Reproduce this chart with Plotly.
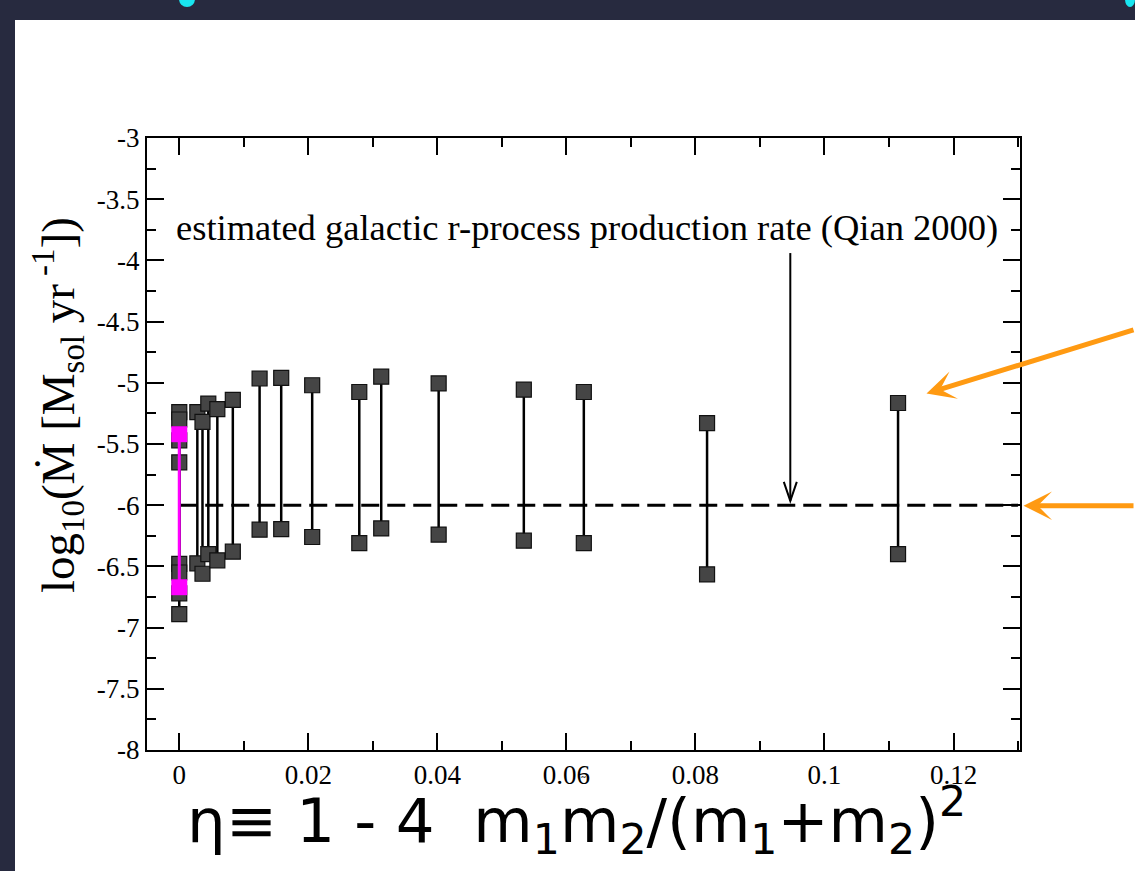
import plotly.graph_objects as go

# Symmetric mass-ratio parameter eta = 1 - 4 m1 m2 / (m1 + m2)^2 for each binary
eta = [0.0, 0.0, 0.0, 0.0, 0.0028, 0.0036, 0.0045, 0.0059, 0.0083,
       0.01245, 0.0158, 0.0206, 0.0279, 0.0313, 0.0402, 0.0534, 0.0627,
       0.0818, 0.1114]
# Upper and lower estimate of log10 of the ejection rate [M_sol / yr]
log_mdot_high = [-5.24, -5.30, -5.47, -5.65, -5.24, -5.32, -5.17, -5.215, -5.14,
                 -4.965, -4.96, -5.02, -5.075, -4.95, -5.005, -5.056, -5.075,
                 -5.33, -5.165]
log_mdot_low = [-6.48, -6.55, -6.72, -6.89, -6.475, -6.56, -6.40, -6.45, -6.38,
                -6.20, -6.195, -6.26, -6.31, -6.19, -6.24, -6.29, -6.31,
                -6.565, -6.40]

# Highlighted equal-mass run
eta_hl = [0.0]
hl_high = [-5.42]
hl_low = [-6.67]

# Galactic r-process production rate (Qian 2000)
qian_rate = -6.0
qian_eta = [0.0, 0.13]
arrow_eta = 0.0947
arrow_top = -3.94
arrow_tip = -5.965

x_range = [-0.005, 0.1303]
y_range = [-8.0, -3.0]
x_tickvals = [0, 0.02, 0.04, 0.06, 0.08, 0.10, 0.12]
x_ticktext = ["0", "0.02", "0.04", "0.06", "0.08", "0.1", "0.12"]
y_tickvals = [-3, -3.5, -4, -4.5, -5, -5.5, -6, -6.5, -7, -7.5, -8]
y_ticktext = ["-3", "-3.5", "-4", "-4.5", "-5", "-5.5", "-6", "-6.5", "-7", "-7.5", "-8"]

SERIF = "Liberation Serif, Times New Roman, DejaVu Serif, serif"
ORANGE = "#ff9a12"
SLIDE_BG = "#272a3f"

W, H = 1135, 871
L, R, T, B = 147, 115, 138, 121
PW, PH = W - L - R, H - T - B


def px(xp):
    """canvas x pixel -> paper fraction"""
    return (xp - L) / PW


def py(yp):
    """canvas y pixel -> paper fraction"""
    return (H - B - yp) / PH


def segments(xs, lo, hi):
    sx, sy = [], []
    for x, a, b in zip(xs, hi, lo):
        sx += [x, x, None]
        sy += [a, b, None]
    return sx, sy


fig = go.Figure()

# vertical bars joining the two estimates
sx, sy = segments(eta, log_mdot_low, log_mdot_high)
fig.add_trace(go.Scatter(x=sx, y=sy, mode="lines",
                         line=dict(color="black", width=2.5),
                         hoverinfo="skip", showlegend=False))

# reference production rate
fig.add_trace(go.Scatter(x=qian_eta, y=[qian_rate] * len(qian_eta), mode="lines",
                         line=dict(color="black", width=3, dash="18px,8px"),
                         hoverinfo="skip", showlegend=False))

# end-point markers
fig.add_trace(go.Scatter(x=eta + eta, y=log_mdot_high + log_mdot_low, mode="markers",
                         marker=dict(symbol="square", size=15, color="#454545",
                                     line=dict(color="#111111", width=1.2)),
                         showlegend=False))

# highlighted run
hx, hy = segments(eta_hl, hl_low, hl_high)
fig.add_trace(go.Scatter(x=hx, y=hy, mode="lines",
                         line=dict(color="#ff00ff", width=3),
                         hoverinfo="skip", showlegend=False))
fig.add_trace(go.Scatter(x=eta_hl + eta_hl, y=hl_high + hl_low, mode="markers",
                         marker=dict(symbol="square", size=16, color="#ff00ff",
                                     line=dict(width=0)),
                         showlegend=False))

shapes = [
    # white slide panel
    dict(type="rect", xref="paper", yref="paper", layer="below",
         x0=px(15), x1=px(W + 5), y0=py(H + 5), y1=py(20),
         fillcolor="white", line=dict(width=0)),
    # cyan lettering peeking in from the slide title
    dict(type="circle", xref="paper", yref="paper", layer="below",
         x0=px(179), x1=px(195), y0=py(7), y1=py(-9),
         fillcolor="#19e6f0", line=dict(width=0)),
    dict(type="circle", xref="paper", yref="paper", layer="below",
         x0=px(1125), x1=px(1135), y0=py(7), y1=py(-9),
         fillcolor="#19e6f0", line=dict(width=0)),
    # arrow shaft
    dict(type="line", xref="x", yref="y", x0=arrow_eta, x1=arrow_eta,
         y0=arrow_top, y1=arrow_tip, line=dict(color="black", width=2)),
    # arrow head (open chevron, pixel sized)
    dict(type="path", xref="x", yref="y", xsizemode="pixel", ysizemode="pixel",
         xanchor=arrow_eta, yanchor=arrow_tip,
         path="M-6.5,19 L0,0 L6.5,19", line=dict(color="black", width=2)),
]

annotations = [
    dict(text="estimated galactic r-process production rate (Qian 2000)",
         x=0.0632, y=-3.735, xref="x", yref="y", showarrow=False,
         font=dict(family=SERIF, size=36.5, color="black")),
    # y axis title
    dict(text="log<sub>10</sub>(Ṁ [M<sub>sol</sub> yr<sup> -1</sup>])",
         x=px(23), y=py(405), xref="paper", yref="paper", showarrow=False,
         textangle=-90, font=dict(family=SERIF, size=47, color="black")),
    # x axis title
    dict(text="η≡ 1 - 4  m<sub>1</sub>m<sub>2</sub>/(m<sub>1</sub>+m<sub>2</sub>)<sup>2</sup>",
         x=px(576), y=py(866), xref="paper", yref="paper", showarrow=False,
         font=dict(family="DejaVu Sans, sans-serif", size=61, color="black")),
    dict(text="˜", x=px(583), y=py(792), xref="paper", yref="paper", showarrow=False,
         font=dict(family="DejaVu Sans", size=14, color="#444444")),
    # orange pointers
    dict(text="", x=px(926.5), y=py(393.5), xref="paper", yref="paper",
         showarrow=True, ax=230, ay=-64, arrowhead=3, arrowsize=0.95,
         arrowwidth=5, arrowcolor=ORANGE, standoff=0),
    dict(text="", x=px(1023.5), y=py(505.7), xref="paper", yref="paper",
         showarrow=True, ax=130, ay=0, arrowhead=3, arrowsize=0.95,
         arrowwidth=5, arrowcolor=ORANGE, standoff=0),
]

axis_common = dict(showline=True, linewidth=2, linecolor="black", mirror="allticks",
                   ticks="inside", ticklen=17, tickwidth=2, tickcolor="black",
                   showgrid=False, zeroline=False,
                   tickfont=dict(family=SERIF, size=27, color="black"))

fig.update_xaxes(range=x_range, tickmode="array", tickvals=x_tickvals,
                 ticktext=x_ticktext,
                 minor=dict(ticks="inside", ticklen=9, tickwidth=2, tickcolor="black",
                            tick0=0, dtick=0.01, showgrid=False),
                 **axis_common)
fig.update_yaxes(range=y_range, tickmode="array", tickvals=y_tickvals,
                 ticktext=y_ticktext,
                 minor=dict(ticks="inside", ticklen=9, tickwidth=2, tickcolor="black",
                            tick0=-8, dtick=0.25, showgrid=False),
                 **axis_common)

fig.update_layout(width=W, height=H, margin=dict(l=L, r=R, t=T, b=B),
                  paper_bgcolor=SLIDE_BG, plot_bgcolor="white",
                  shapes=shapes, annotations=annotations, showlegend=False)

fig.write_html("out.html")
